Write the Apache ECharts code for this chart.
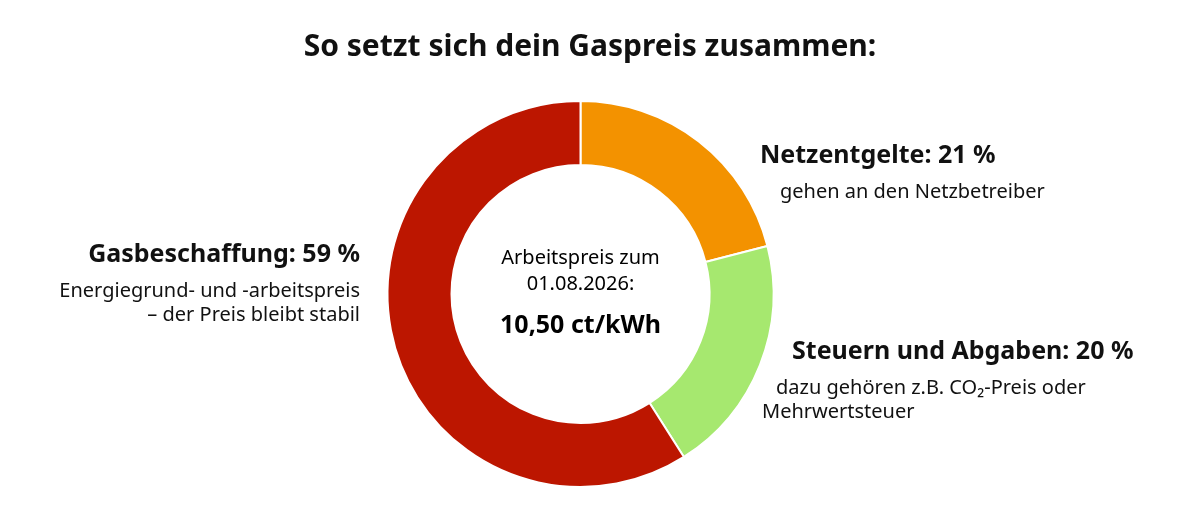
<!DOCTYPE html>
<html><head><meta charset="utf-8">
<script src="https://cdn.jsdelivr.net/npm/echarts@6/dist/echarts.min.js"></script>
<style>html,body{margin:0;padding:0;background:#fff;}#c{width:1180px;height:519px;}</style>
</head><body><div id="c"></div>
<script>
const titleText = 'So setzt sich dein Gaspreis zusammen:';
const categories = ['Netzentgelte', 'Steuern und Abgaben', 'Gasbeschaffung'];
const shares = [21, 20, 59];
const notes = [
  ['gehen an den Netzbetreiber'],
  ['dazu gehören z.B. CO₂-Preis oder', 'Mehrwertsteuer'],
  ['Energiegrund- und -arbeitspreis', '– der Preis bleibt stabil']
];
const centerLines = ['Arbeitspreis zum', '01.08.2026:'];
const centerValue = '10,50 ct/kWh';
const colors = ['#f39200', '#a6e86f', '#bc1600'];

// label layout (style, not data)
const labelPos = [
  {x: 760, y: 132, align: 'left', titlePad: 0, subPads: [20]},
  {x: 762, y: 328, align: 'left', titlePad: 30, subPads: [14, 0]},
  {x: 360, y: 231, align: 'right', titlePad: 0, subPads: [0, 0]}
];
const FONT = '"Noto Sans", "Open Sans", sans-serif';

const chart = echarts.init(document.getElementById('c'), null, {renderer: 'canvas'});
const baseT = {fontFamily: FONT, fontWeight: 'bold', fontSize: 25, color: '#111', lineHeight: 48};
const baseS = {fontFamily: FONT, fontSize: 20, color: '#111', lineHeight: 24};
const rich = {};
labelPos.forEach((p, i) => {
  rich['t' + i] = Object.assign({}, baseT, {padding: [0, 0, 0, p.titlePad]});
  p.subPads.forEach((pad, j) => {
    rich['s' + i + '_' + j] = Object.assign({}, baseS, {padding: [0, 0, 0, pad]});
  });
});

chart.setOption({
  animation: false,
  title: {
    text: titleText, left: 'center', top: 27,
    textStyle: {fontFamily: FONT, fontWeight: 'bold', fontSize: 30, color: '#111'}
  },
  graphic: [{
    type: 'text', x: 580.5, y: 245,
    style: {
      text: '{a|' + centerLines.join('}\n{a|') + '}\n{b|' + centerValue + '}',
      align: 'center', verticalAlign: 'top',
      rich: {
        a: {fontFamily: FONT, fontSize: 20, color: '#111', lineHeight: 26, align: 'center'},
        b: {fontFamily: FONT, fontSize: 25, fontWeight: 'bold', color: '#111', lineHeight: 58, align: 'center'}
      }
    }
  }],
  series: [{
    type: 'pie',
    center: [580.5, 294],
    radius: [129, 193],
    startAngle: 90,
    clockwise: true,
    silent: true,
    itemStyle: {borderColor: '#fff', borderWidth: 2},
    labelLine: {show: false},
    label: {
      show: true,
      formatter: function (p) {
        const i = p.dataIndex;
        let s = '{t' + i + '|' + p.name + ': ' + p.value + ' %}';
        notes[i].forEach((n, j) => { s += '\n{s' + i + '_' + j + '|' + n + '}'; });
        return s;
      },
      rich: rich
    },
    labelLayout: function (params) {
      const p = labelPos[params.dataIndex];
      return {x: p.x, y: p.y, align: p.align, verticalAlign: 'top', hideOverlap: false, moveOverlap: false};
    },
    data: categories.map((c, i) => ({name: c, value: shares[i], itemStyle: {color: colors[i]}}))
  }]
});
</script></body></html>
